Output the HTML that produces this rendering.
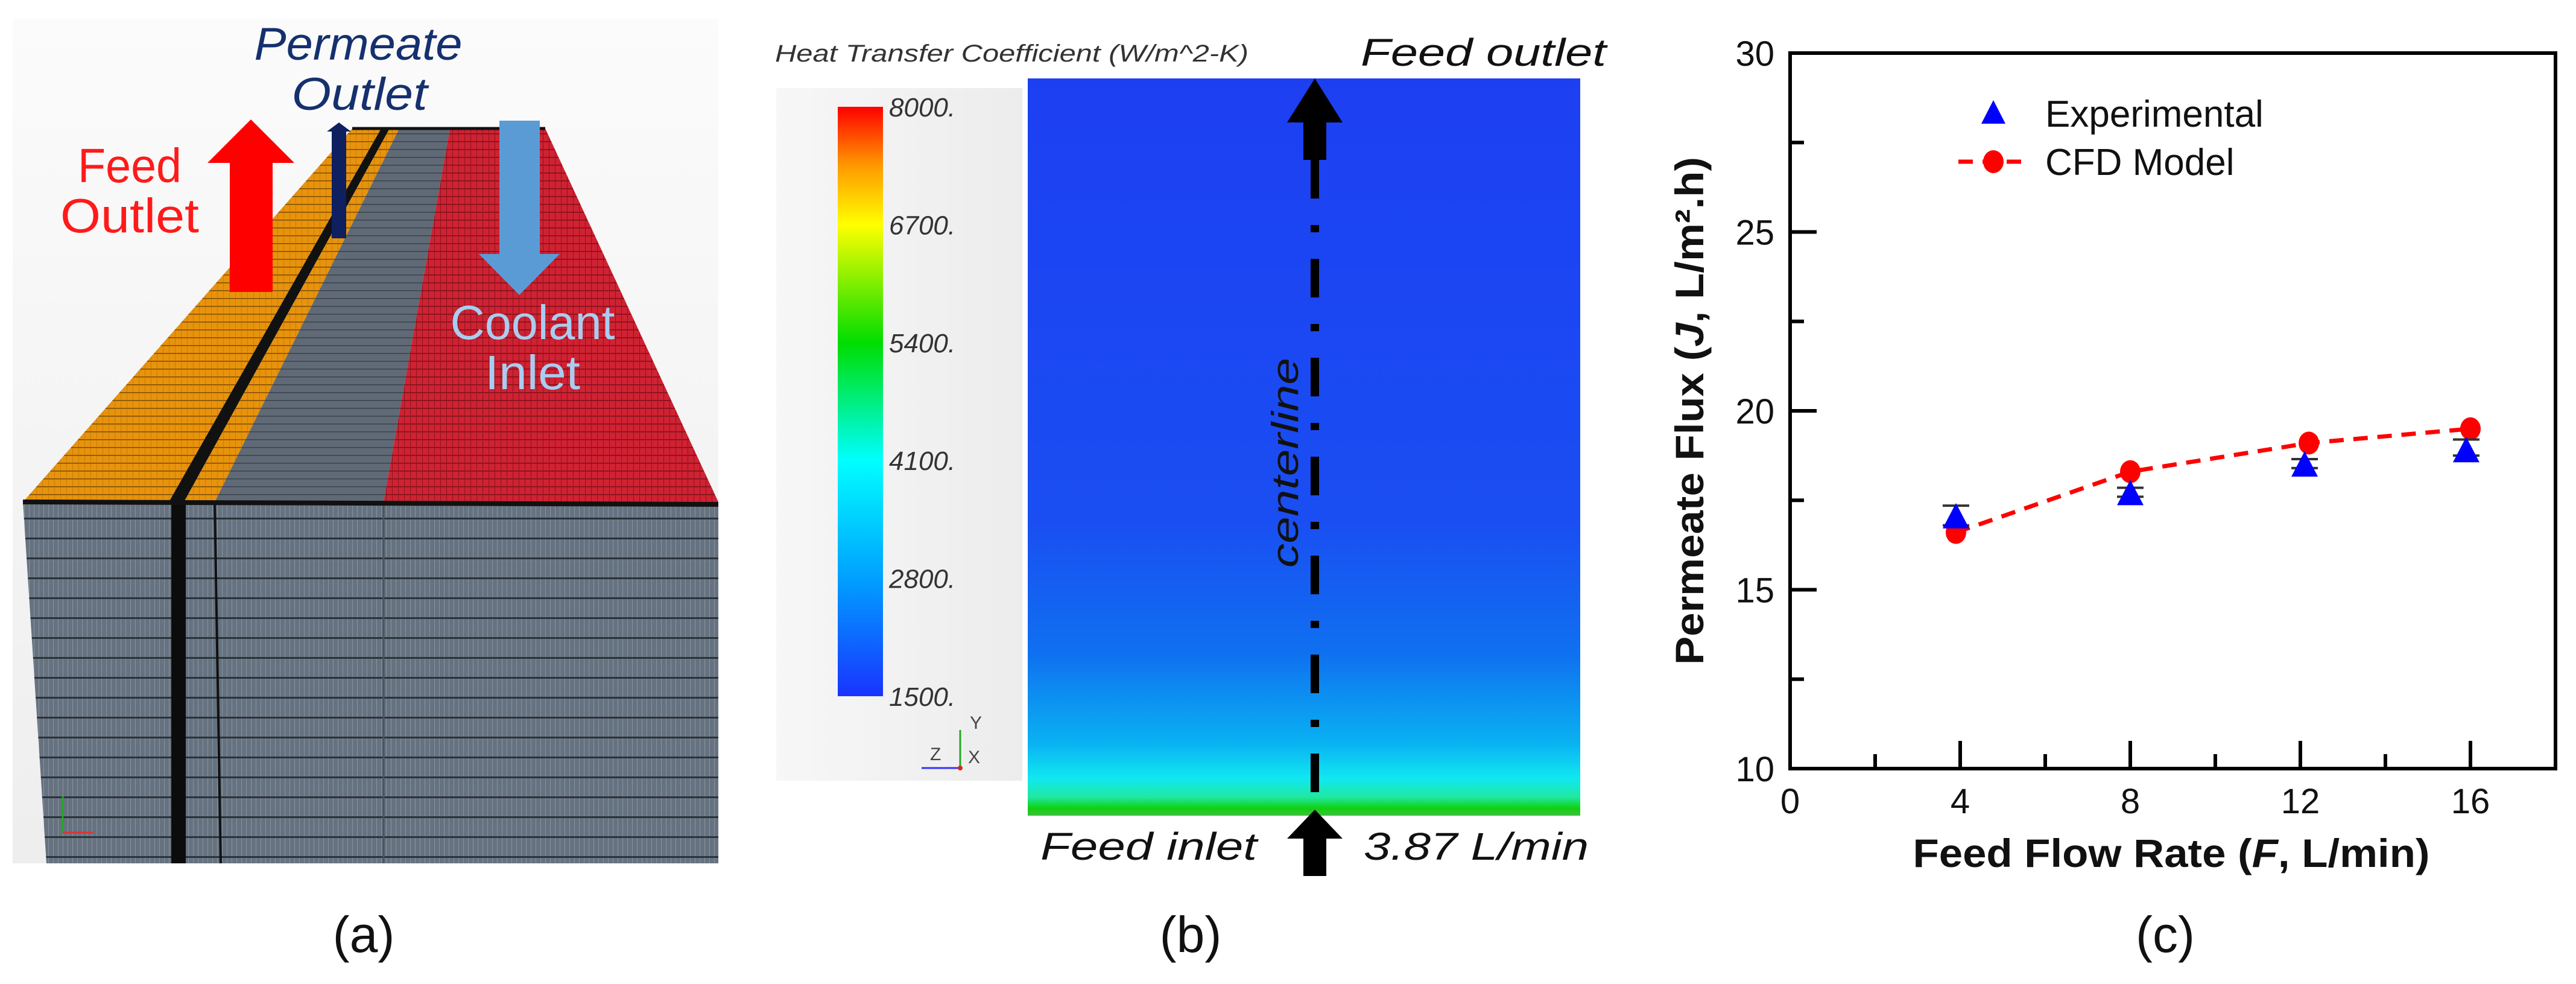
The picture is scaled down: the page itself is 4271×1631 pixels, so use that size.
<!DOCTYPE html>
<html><head><meta charset="utf-8">
<style>
html,body{margin:0;padding:0;background:#fff;}
svg{display:block;}
text{font-family:"Liberation Sans",sans-serif;}
</style></head>
<body>
<svg id="fig" width="4271" height="1631" viewBox="0 0 4271 1631" xmlns="http://www.w3.org/2000/svg">
<defs>
  <linearGradient id="bgA" x1="0" y1="0" x2="0" y2="1">
    <stop offset="0" stop-color="#fbfbfb"/><stop offset="1" stop-color="#eeeeee"/>
  </linearGradient>
  <pattern id="meshFront" width="8" height="33" patternUnits="userSpaceOnUse">
    <rect width="8" height="33" fill="#66727f"/>
    <line x1="0" y1="0" x2="0" y2="33" stroke="#8593a0" stroke-width="2"/>
    <line x1="0" y1="1" x2="8" y2="1" stroke="#2b323a" stroke-width="4"/>
  </pattern>
  <pattern id="meshOrange" width="10" height="13" patternUnits="userSpaceOnUse">
    <rect width="10" height="13" fill="#e8930c"/>
    <line x1="0" y1="0" x2="10" y2="0" stroke="#7a4a05" stroke-width="3"/>
    <line x1="0" y1="0" x2="0" y2="13" stroke="#a56a08" stroke-width="1"/>
  </pattern>
  <pattern id="meshGray" width="10" height="13" patternUnits="userSpaceOnUse">
    <rect width="10" height="13" fill="#606a76"/>
    <line x1="0" y1="0" x2="10" y2="0" stroke="#3a424c" stroke-width="3"/>
  </pattern>
  <pattern id="meshRed" width="10" height="13" patternUnits="userSpaceOnUse">
    <rect width="10" height="13" fill="#cf2232"/>
    <line x1="0" y1="0" x2="10" y2="0" stroke="#7a1019" stroke-width="3"/>
    <line x1="0" y1="0" x2="0" y2="13" stroke="#8e1520" stroke-width="2"/>
  </pattern>
  <linearGradient id="cbar" x1="0" y1="1" x2="0" y2="0">
    <stop offset="0" stop-color="#1a33ff"/>
    <stop offset="0.2" stop-color="#00a0ff"/>
    <stop offset="0.4" stop-color="#00ffff"/>
    <stop offset="0.6" stop-color="#00dd00"/>
    <stop offset="0.8" stop-color="#ffff00"/>
    <stop offset="0.9" stop-color="#ff9900"/>
    <stop offset="1" stop-color="#ff0000"/>
  </linearGradient>
  <linearGradient id="contour" x1="0" y1="0" x2="0" y2="1">
    <stop offset="0" stop-color="#1c3ff2"/>
    <stop offset="0.6" stop-color="#1a4ef2"/>
    <stop offset="0.78" stop-color="#0f70f0"/>
    <stop offset="0.9" stop-color="#0ab0f2"/>
    <stop offset="0.95" stop-color="#10e8f0"/>
    <stop offset="0.975" stop-color="#20e8a0"/>
    <stop offset="0.99" stop-color="#10d010"/>
    <stop offset="1" stop-color="#40c040"/>
  </linearGradient>
  <linearGradient id="bgB" x1="0" y1="0" x2="1" y2="0">
    <stop offset="0" stop-color="#f7f7f7"/><stop offset="1" stop-color="#ececec"/>
  </linearGradient>
</defs>

<!-- ===== Panel (a) ===== -->
<g>
  <rect x="21" y="31" width="1170" height="1400" fill="url(#bgA)"/>
  <polygon points="38,832 1191,832 1191,1431 77,1431" fill="url(#meshFront)"/>
  <rect x="284" y="832" width="24" height="599" fill="#0c0c0c"/>
  <line x1="356" y1="832" x2="366" y2="1431" stroke="#111" stroke-width="4"/>
  <line x1="636" y1="832" x2="636" y2="1431" stroke="#4a545e" stroke-width="3"/>
  <polygon points="584,213 632,213 280,832 38,832" fill="url(#meshOrange)"/>
  <polygon points="632,213 646,213 305,832 280,832" fill="#111"/>
  <polygon points="646,213 662,213 356,832 305,832" fill="url(#meshOrange)"/>
  <polygon points="662,213 746,213 636,832 356,832" fill="url(#meshGray)"/>
  <polygon points="746,213 904,213 1191,832 636,832" fill="url(#meshRed)"/>
  <line x1="38" y1="832" x2="1191" y2="836" stroke="#111" stroke-width="8"/>
  <line x1="584" y1="213" x2="904" y2="213" stroke="#111" stroke-width="5"/>
  <g>
    <line x1="104" y1="1380" x2="104" y2="1320" stroke="#2a2" stroke-width="3"/>
    <line x1="104" y1="1380" x2="155" y2="1380" stroke="#d33" stroke-width="3"/>
  </g>
</g>
<polygon points="381,484 452,484 452,270 488,270 416,198 344,270 381,270" fill="#ff0000"/>
<polygon points="550,395 574,395 574,218 582,218 562,203 542,218 550,218" fill="#0f2060"/>
<polygon points="828,200 895,200 895,421 928,421 861,489 794,421 828,421" fill="#5b9bd5"/>
<text x="215" y="302" font-size="80" fill="#ff1a1a" text-anchor="middle" textLength="172" lengthAdjust="spacingAndGlyphs">Feed</text>
<text x="215" y="385" font-size="80" fill="#ff1a1a" text-anchor="middle" textLength="230" lengthAdjust="spacingAndGlyphs">Outlet</text>
<text x="594" y="99" font-size="76" font-style="italic" fill="#15306e" text-anchor="middle" textLength="345" lengthAdjust="spacingAndGlyphs">Permeate</text>
<text x="596" y="182" font-size="76" font-style="italic" fill="#15306e" text-anchor="middle" textLength="225" lengthAdjust="spacingAndGlyphs">Outlet</text>
<text x="883" y="562" font-size="80" fill="#a9cdf0" text-anchor="middle" textLength="273" lengthAdjust="spacingAndGlyphs">Coolant</text>
<text x="883" y="645" font-size="80" fill="#a9cdf0" text-anchor="middle" textLength="158" lengthAdjust="spacingAndGlyphs">Inlet</text>
<text x="603" y="1578" font-size="84" fill="#111" text-anchor="middle">(a)</text>

<!-- ===== Panel (b) ===== -->
<rect x="1287" y="146" width="408" height="1148" fill="url(#bgB)"/>
<text x="1285" y="102" font-size="40" font-style="italic" fill="#333" textLength="785" lengthAdjust="spacingAndGlyphs">Heat Transfer Coefficient (W/m^2-K)</text>
<rect x="1389" y="177" width="75" height="977" fill="url(#cbar)"/>
<g id="cbticks" font-size="44" font-style="italic" fill="#333"></g>
<g>
  <line x1="1592" y1="1273" x2="1592" y2="1210" stroke="#2a2" stroke-width="3"/>
  <line x1="1592" y1="1273" x2="1528" y2="1273" stroke="#33f" stroke-width="3"/>
  <circle cx="1592" cy="1273" r="4" fill="#d22"/>
  <text x="1608" y="1208" font-size="30" fill="#444">Y</text>
  <text x="1605" y="1265" font-size="30" fill="#444">X</text>
  <text x="1542" y="1260" font-size="30" fill="#444">Z</text>
</g>
<rect x="1704" y="130" width="916" height="1222" fill="url(#contour)"/>
<line x1="2180" y1="265" x2="2180" y2="1345" stroke="#000" stroke-width="14" stroke-dasharray="64,44,12,44"/>
<polygon points="2161,265 2199,265 2199,203 2226,203 2180,130 2134,203 2161,203" fill="#000"/>
<polygon points="2161,1452 2199,1452 2199,1390 2226,1390 2180,1342 2134,1390 2161,1390" fill="#000"/>
<text x="2256" y="109" font-size="64" font-style="italic" fill="#111" textLength="407" lengthAdjust="spacingAndGlyphs">Feed outlet</text>
<text x="1725" y="1425" font-size="64" font-style="italic" fill="#111" textLength="359" lengthAdjust="spacingAndGlyphs">Feed inlet</text>
<text x="2261" y="1425" font-size="64" font-style="italic" fill="#111" textLength="373" lengthAdjust="spacingAndGlyphs">3.87 L/min</text>
<text x="2152" y="767" font-size="62" font-style="italic" fill="#111" text-anchor="middle" textLength="348" lengthAdjust="spacingAndGlyphs" transform="rotate(-90 2152 767)">centerline</text>
<text x="1974" y="1578" font-size="84" fill="#111" text-anchor="middle">(b)</text>

<!-- ===== Panel (c) chart ===== -->
<g id="chart"></g>
<text x="3590" y="1578" font-size="84" fill="#111" text-anchor="middle">(c)</text>
</svg>

<script>
var cbValues = ["8000.", "6700.", "5400.", "4100.", "2800.", "1500."];
var expX = [3.9, 8, 12.1, 15.9];
var expY = [17.05, 17.7, 18.5, 18.9];
var expErrHi = [17.35, 17.85, 18.65, 19.2];
var expErrLo = [16.8, 17.6, 18.4, 18.75];
var cfdX = [3.9, 8, 12.2, 16];
var cfdY = [16.6, 18.3, 19.1, 19.5];
var xTicks = [0, 4, 8, 12, 16];
var yTicks = [10, 15, 20, 25, 30];

var NS = "http://www.w3.org/2000/svg";
function mk(tag, attrs, parent) {
  var e = document.createElementNS(NS, tag);
  for (var k in attrs) e.setAttribute(k, attrs[k]);
  parent.appendChild(e);
  return e;
}
var cb = document.getElementById("cbticks");
for (var i = 0; i < cbValues.length; i++) {
  var t = mk("text", {x: 1474, y: 177 + i * 195.4 + 16}, cb);
  
  
  t.textContent = cbValues[i];
}

var g = document.getElementById("chart");
var L = 2968, R = 4237, T = 88, B = 1274;
var xMin = 0, xMax = 18, yMin = 10, yMax = 30;
function sx(v) { return L + (v - xMin) / (xMax - xMin) * (R - L); }
function sy(v) { return B - (v - yMin) / (yMax - yMin) * (B - T); }

var frame = mk("rect", {x: L, y: T, width: R - L, height: B - T, fill: "none", stroke: "#000", "stroke-width": 6}, g);



for (var v = 2; v < 18; v += 2) {
  var major = v % 4 === 0;
  var tk = mk("line", {x1: sx(v), x2: sx(v), y1: B, y2: B - (major ? 46 : 24), stroke: "#000", "stroke-width": 6}, g);
  
  
}
for (var i = 0; i < xTicks.length; i++) {
  var lb = mk("text", {x: sx(xTicks[i]), y: 1348, "font-size": 58, "text-anchor": "middle", fill: "#111"}, g);
  
  
  lb.textContent = xTicks[i];
}
for (var v = 12.5; v < 30; v += 2.5) {
  var major = v % 5 === 0;
  var tk = mk("line", {x1: L, x2: L + (major ? 44 : 23), y1: sy(v), y2: sy(v), stroke: "#000", "stroke-width": 6}, g);
  
  
}
for (var i = 0; i < yTicks.length; i++) {
  var lb = mk("text", {x: 2942, y: sy(yTicks[i]) + 21, "font-size": 58, "text-anchor": "end", fill: "#111"}, g);
  
  
  lb.textContent = yTicks[i];
}
var xt = mk("text", {x: 3600, y: 1437, "font-size": 66, "font-weight": "bold", "text-anchor": "middle", fill: "#111", textLength: 857, lengthAdjust: "spacingAndGlyphs"}, g);


xt.innerHTML = 'Feed Flow Rate (<tspan font-style="italic">F</tspan>, L/min)';
var yt = mk("text", {x: 2824, y: 681, "font-size": 66, "font-weight": "bold", "text-anchor": "middle", fill: "#111", textLength: 842, lengthAdjust: "spacingAndGlyphs", transform: "rotate(-90 2824 681)"}, g);


yt.innerHTML = 'Permeate Flux (<tspan font-style="italic">J</tspan>, L/m\u00b2.h)';

var d = "";
for (var i = 0; i < cfdX.length; i++) d += (i ? "L" : "M") + sx(cfdX[i]) + "," + sy(cfdY[i]);
var ln = mk("path", {d: d, fill: "none", stroke: "#ff0000", "stroke-width": 7, "stroke-dasharray": "24,16"}, g);


for (var i = 0; i < cfdX.length; i++) {
  var c = mk("ellipse", {cx: sx(cfdX[i]), cy: sy(cfdY[i]), rx: 17, ry: 19, fill: "#ff0000"}, g);
  
  
}
for (var i = 0; i < expX.length; i++) {
  var x = sx(expX[i]), y = sy(expY[i]);
  var eb = mk("path", {d: "M" + x + "," + sy(expErrHi[i]) + "V" + sy(expErrLo[i]) + "M" + (x - 22) + "," + sy(expErrHi[i]) + "h44M" + (x - 22) + "," + sy(expErrLo[i]) + "h44", stroke: "#333", "stroke-width": 4, fill: "none"}, g);
  
  
  var tr = mk("polygon", {points: (x - 22) + "," + (y + 20) + " " + (x + 22) + "," + (y + 20) + " " + x + "," + (y - 22), fill: "#0000ff"}, g);
  
  
}
var lg = mk("g", {}, g);


var lt = mk("polygon", {points: "3285,205 3325,205 3305,166", fill: "#0000ff"}, lg);


var t1 = mk("text", {x: 3391, y: 210, "font-size": 62, fill: "#111"}, lg);


t1.textContent = "Experimental";
var ll = mk("line", {x1: 3247, x2: 3357, y1: 268, y2: 268, stroke: "#ff0000", "stroke-width": 7, "stroke-dasharray": "24,16"}, lg);


var lc = mk("ellipse", {cx: 3305, cy: 268, rx: 17, ry: 19, fill: "#ff0000"}, lg);


var t2 = mk("text", {x: 3391, y: 290, "font-size": 62, fill: "#111"}, lg);


t2.textContent = "CFD Model";
</script>
</body></html>
